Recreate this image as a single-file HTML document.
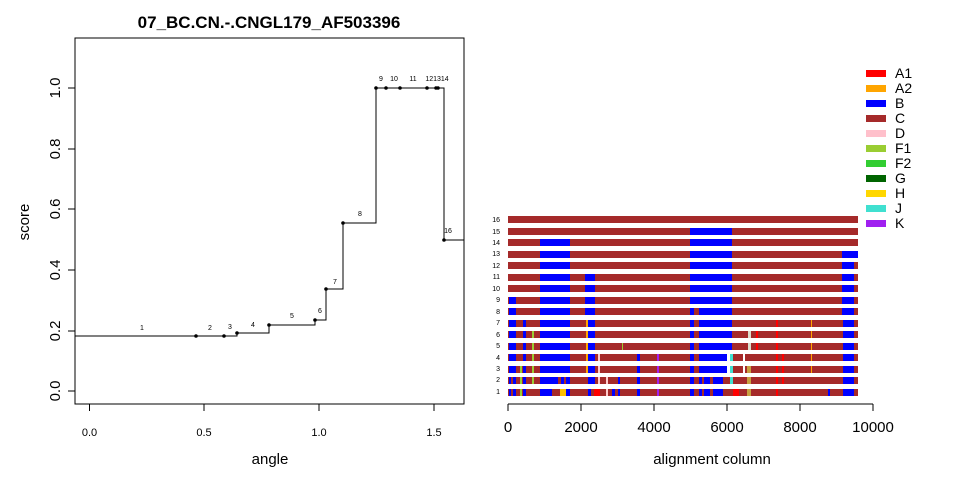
<!DOCTYPE html>
<html><head><meta charset="utf-8"><style>
html,body{margin:0;padding:0;background:#fff}
svg{display:block;font-family:"Liberation Sans",Arial,sans-serif}
</style></head><body>
<svg width="960" height="480" xmlns="http://www.w3.org/2000/svg">
<!-- LEFT PLOT -->
<text x="269" y="28" text-anchor="middle" font-size="17" font-weight="bold">07_BC.CN.-.CNGL179_AF503396</text>
<rect x="75" y="38" width="389" height="366" fill="none" stroke="#000" stroke-width="1"/>
<g stroke="#000">
<line x1="89.5" y1="404" x2="89.5" y2="411"/><line x1="204" y1="404" x2="204" y2="411"/>
<line x1="319" y1="404" x2="319" y2="411"/><line x1="434" y1="404" x2="434" y2="411"/>
<line x1="68" y1="391" x2="75" y2="391"/><line x1="68" y1="331" x2="75" y2="331"/>
<line x1="68" y1="270" x2="75" y2="270"/><line x1="68" y1="209" x2="75" y2="209"/>
<line x1="68" y1="149" x2="75" y2="149"/><line x1="68" y1="88" x2="75" y2="88"/>
</g>
<g font-size="11" text-anchor="middle">
<text x="89.5" y="436">0.0</text><text x="204" y="436">0.5</text><text x="319" y="436">1.0</text><text x="434" y="436">1.5</text>
</g>
<g font-size="15" text-anchor="middle">
<text transform="translate(60,391) rotate(-90)">0.0</text>
<text transform="translate(60,331) rotate(-90)">0.2</text>
<text transform="translate(60,270) rotate(-90)">0.4</text>
<text transform="translate(60,209) rotate(-90)">0.6</text>
<text transform="translate(60,149) rotate(-90)">0.8</text>
<text transform="translate(60,88) rotate(-90)">1.0</text>
<text transform="translate(29,222) rotate(-90)">score</text>
<text x="270" y="464">angle</text>
<text x="712" y="464">alignment column</text>
</g>
<polyline fill="none" stroke="#000" stroke-width="1" points="75,336 237,336 237,333 269,333 269,325 315,325 315,320 326,320 326,289 343,289 343,223 376,223 376,88 444,88 444,240 464,240"/>
<g fill="#000">
<circle cx="196" cy="336" r="1.8"/><circle cx="224" cy="336" r="1.8"/><circle cx="237" cy="333" r="1.8"/>
<circle cx="269" cy="325" r="1.8"/><circle cx="315" cy="320" r="1.8"/><circle cx="326" cy="289" r="1.8"/>
<circle cx="343" cy="223" r="1.8"/><circle cx="376" cy="88" r="1.8"/><circle cx="386" cy="88" r="1.8"/>
<circle cx="400" cy="88" r="1.8"/><circle cx="427" cy="88" r="1.8"/><circle cx="436" cy="88" r="1.8"/>
<circle cx="438" cy="88" r="1.8"/><circle cx="444" cy="240" r="1.8"/>
</g>
<g font-size="7" text-anchor="middle">
<text x="142" y="330">1</text><text x="210" y="330">2</text><text x="230" y="329">3</text>
<text x="253" y="327">4</text><text x="292" y="318">5</text><text x="320" y="313">6</text>
<text x="335" y="284">7</text><text x="360" y="216">8</text><text x="381" y="81">9</text>
<text x="394" y="81">10</text><text x="413" y="81">11</text><text x="437" y="81">121314</text>
<text x="448" y="233">16</text>
</g>
<!-- RIGHT PLOT -->
<line x1="508" y1="404" x2="873" y2="404" stroke="#000"/>
<g stroke="#000">
<line x1="508" y1="404" x2="508" y2="411"/><line x1="581" y1="404" x2="581" y2="411"/>
<line x1="654" y1="404" x2="654" y2="411"/><line x1="727" y1="404" x2="727" y2="411"/>
<line x1="800" y1="404" x2="800" y2="411"/><line x1="873" y1="404" x2="873" y2="411"/>
</g>
<g font-size="15" text-anchor="middle">
<text x="508" y="432">0</text><text x="581" y="432">2000</text><text x="654" y="432">4000</text>
<text x="727" y="432">6000</text><text x="800" y="432">8000</text><text x="873" y="432">10000</text>
</g>
<g font-size="7" text-anchor="end">
<text x="500" y="222">16</text><text x="500" y="234">15</text><text x="500" y="245">14</text><text x="500" y="256">13</text>
<text x="500" y="268">12</text><text x="500" y="279">11</text><text x="500" y="291">10</text><text x="500" y="302">9</text>
<text x="500" y="314">8</text><text x="500" y="325">7</text><text x="500" y="337">6</text><text x="500" y="348">5</text>
<text x="500" y="360">4</text><text x="500" y="371">3</text><text x="500" y="382">2</text><text x="500" y="394">1</text>
</g>
<g id="bars">
<!-- row y top = center-3.5 ; rows 16..1 centers 220 + 11.47*i -->
<rect x="508" y="216" width="350" height="7" fill="#A52A2A"/>
<rect x="508" y="228" width="350" height="7" fill="#A52A2A"/><rect x="690" y="228" width="42" height="7" fill="#00f"/>
<rect x="508" y="239" width="350" height="7" fill="#A52A2A"/><rect x="540" y="239" width="30" height="7" fill="#00f"/><rect x="690" y="239" width="42" height="7" fill="#00f"/>
<rect x="508" y="251" width="350" height="7" fill="#A52A2A"/><rect x="540" y="251" width="30" height="7" fill="#00f"/><rect x="690" y="251" width="42" height="7" fill="#00f"/><rect x="842" y="251" width="16" height="7" fill="#00f"/>
<rect x="508" y="262" width="350" height="7" fill="#A52A2A"/><rect x="540" y="262" width="30" height="7" fill="#00f"/><rect x="690" y="262" width="42" height="7" fill="#00f"/><rect x="842" y="262" width="12" height="7" fill="#00f"/>
<rect x="508" y="274" width="350" height="7" fill="#A52A2A"/><rect x="540" y="274" width="30" height="7" fill="#00f"/><rect x="585" y="274" width="10" height="7" fill="#00f"/><rect x="690" y="274" width="42" height="7" fill="#00f"/><rect x="842" y="274" width="12" height="7" fill="#00f"/>
<rect x="508" y="285" width="350" height="7" fill="#A52A2A"/><rect x="540" y="285" width="30" height="7" fill="#00f"/><rect x="585" y="285" width="10" height="7" fill="#00f"/><rect x="690" y="285" width="42" height="7" fill="#00f"/><rect x="842" y="285" width="12" height="7" fill="#00f"/>
<rect x="508" y="297" width="350" height="7" fill="#A52A2A"/><rect x="509" y="297" width="7" height="7" fill="#00f"/><rect x="540" y="297" width="30" height="7" fill="#00f"/><rect x="585" y="297" width="10" height="7" fill="#00f"/><rect x="690" y="297" width="42" height="7" fill="#00f"/><rect x="842" y="297" width="12" height="7" fill="#00f"/>
<rect x="508" y="308" width="350" height="7" fill="#A52A2A"/><rect x="509" y="308" width="7" height="7" fill="#00f"/><rect x="540" y="308" width="30" height="7" fill="#00f"/><rect x="585" y="308" width="10" height="7" fill="#00f"/><rect x="690" y="308" width="4" height="7" fill="#00f"/><rect x="699" y="308" width="33" height="7" fill="#00f"/><rect x="842" y="308" width="12" height="7" fill="#00f"/>
</g>
<g id="speck">
<!-- rows 7..1 -->
<rect x="508" y="320" width="350" height="7" fill="#A52A2A"/><rect x="509" y="320" width="7" height="7" fill="#00f"/><rect x="523" y="320" width="3" height="7" fill="#00f"/><rect x="540" y="320" width="30" height="7" fill="#00f"/><rect x="588" y="320" width="7" height="7" fill="#00f"/><rect x="586" y="320" width="2" height="7" fill="#FFA500"/><rect x="690" y="320" width="4" height="7" fill="#00f"/><rect x="699" y="320" width="33" height="7" fill="#00f"/><rect x="843" y="320" width="11" height="7" fill="#00f"/><rect x="776" y="320" width="2" height="7" fill="#f00"/><rect x="811" y="320" width="1" height="7" fill="#FFA500"/>
<rect x="508" y="331" width="350" height="7" fill="#A52A2A"/><rect x="509" y="331" width="7" height="7" fill="#00f"/><rect x="523" y="331" width="3" height="7" fill="#00f"/><rect x="532" y="331" width="2" height="7" fill="#9ACD32"/><rect x="540" y="331" width="30" height="7" fill="#00f"/><rect x="588" y="331" width="7" height="7" fill="#00f"/><rect x="586" y="331" width="2" height="7" fill="#FFA500"/><rect x="690" y="331" width="4" height="7" fill="#00f"/><rect x="699" y="331" width="33" height="7" fill="#00f"/><rect x="843" y="331" width="11" height="7" fill="#00f"/><rect x="748" y="331" width="3" height="7" fill="#ddc"/><rect x="776" y="331" width="2" height="7" fill="#f00"/><rect x="756" y="331" width="2" height="7" fill="#f00"/><rect x="811" y="331" width="1" height="7" fill="#FFA500"/>
<rect x="508" y="343" width="350" height="7" fill="#A52A2A"/><rect x="509" y="343" width="7" height="7" fill="#00f"/><rect x="523" y="343" width="3" height="7" fill="#00f"/><rect x="532" y="343" width="2" height="7" fill="#9ACD32"/><rect x="540" y="343" width="30" height="7" fill="#00f"/><rect x="588" y="343" width="7" height="7" fill="#00f"/><rect x="586" y="343" width="2" height="7" fill="#FFA500"/><rect x="622" y="343" width="1" height="7" fill="#9ACD32"/><rect x="690" y="343" width="4" height="7" fill="#00f"/><rect x="699" y="343" width="33" height="7" fill="#00f"/><rect x="843" y="343" width="11" height="7" fill="#00f"/><rect x="748" y="343" width="3" height="7" fill="#ddc"/><rect x="776" y="343" width="2" height="7" fill="#f00"/><rect x="756" y="343" width="2" height="7" fill="#f00"/><rect x="811" y="343" width="1" height="7" fill="#FFA500"/>
<rect x="508" y="354" width="350" height="7" fill="#A52A2A"/><rect x="509" y="354" width="7" height="7" fill="#00f"/><rect x="523" y="354" width="3" height="7" fill="#00f"/><rect x="532" y="354" width="2" height="7" fill="#9ACD32"/><rect x="540" y="354" width="30" height="7" fill="#00f"/><rect x="588" y="354" width="7" height="7" fill="#00f"/><rect x="586" y="354" width="2" height="7" fill="#FFA500"/><rect x="598" y="354" width="2" height="7" fill="#fcc"/><rect x="637" y="354" width="3" height="7" fill="#00f"/><rect x="657" y="354" width="2" height="7" fill="#A020F0"/><rect x="690" y="354" width="4" height="7" fill="#00f"/><rect x="699" y="354" width="28" height="7" fill="#00f"/><rect x="727" y="354" width="3" height="7" fill="#fff"/><rect x="730" y="354" width="3" height="7" fill="#40E0D0"/><rect x="743" y="354" width="2" height="7" fill="#fff"/><rect x="776" y="354" width="2" height="7" fill="#f00"/><rect x="782" y="354" width="2" height="7" fill="#f00"/><rect x="811" y="354" width="1" height="7" fill="#FFA500"/><rect x="843" y="354" width="11" height="7" fill="#00f"/>
<rect x="508" y="366" width="350" height="7" fill="#A52A2A"/><rect x="509" y="366" width="7" height="7" fill="#00f"/><rect x="520" y="366" width="2" height="7" fill="#9ACD32"/><rect x="523" y="366" width="3" height="7" fill="#00f"/><rect x="532" y="366" width="2" height="7" fill="#9ACD32"/><rect x="540" y="366" width="30" height="7" fill="#00f"/><rect x="588" y="366" width="7" height="7" fill="#00f"/><rect x="586" y="366" width="2" height="7" fill="#FFA500"/><rect x="598" y="366" width="2" height="7" fill="#fcc"/><rect x="637" y="366" width="3" height="7" fill="#00f"/><rect x="657" y="366" width="2" height="7" fill="#A020F0"/><rect x="690" y="366" width="4" height="7" fill="#00f"/><rect x="699" y="366" width="28" height="7" fill="#00f"/><rect x="727" y="366" width="3" height="7" fill="#fff"/><rect x="730" y="366" width="3" height="7" fill="#40E0D0"/><rect x="743" y="366" width="2" height="7" fill="#fff"/><rect x="747" y="366" width="4" height="7" fill="#C8A040"/><rect x="776" y="366" width="2" height="7" fill="#f00"/><rect x="782" y="366" width="2" height="7" fill="#f00"/><rect x="811" y="366" width="1" height="7" fill="#FFA500"/><rect x="843" y="366" width="11" height="7" fill="#00f"/>
<rect x="508" y="377" width="350" height="7" fill="#A52A2A"/><rect x="509" y="377" width="2" height="7" fill="#00f"/><rect x="513" y="377" width="3" height="7" fill="#00f"/><rect x="520" y="377" width="2" height="7" fill="#9ACD32"/><rect x="523" y="377" width="3" height="7" fill="#00f"/><rect x="532" y="377" width="2" height="7" fill="#9ACD32"/><rect x="540" y="377" width="18" height="7" fill="#00f"/><rect x="561" y="377" width="3" height="7" fill="#00f"/><rect x="566" y="377" width="4" height="7" fill="#00f"/><rect x="588" y="377" width="7" height="7" fill="#00f"/><rect x="598" y="377" width="2" height="7" fill="#fcc"/><rect x="606" y="377" width="2" height="7" fill="#fcc"/><rect x="618" y="377" width="2" height="7" fill="#00f"/><rect x="637" y="377" width="3" height="7" fill="#00f"/><rect x="657" y="377" width="2" height="7" fill="#A020F0"/><rect x="690" y="377" width="4" height="7" fill="#00f"/><rect x="699" y="377" width="3" height="7" fill="#00f"/><rect x="704" y="377" width="6" height="7" fill="#00f"/><rect x="713" y="377" width="10" height="7" fill="#00f"/><rect x="730" y="377" width="3" height="7" fill="#40E0D0"/><rect x="747" y="377" width="4" height="7" fill="#C8A040"/><rect x="776" y="377" width="2" height="7" fill="#f00"/><rect x="782" y="377" width="2" height="7" fill="#f00"/><rect x="843" y="377" width="11" height="7" fill="#00f"/>
<rect x="508" y="389" width="350" height="7" fill="#A52A2A"/><rect x="509" y="389" width="2" height="7" fill="#00f"/><rect x="513" y="389" width="3" height="7" fill="#00f"/><rect x="520" y="389" width="2" height="7" fill="#9ACD32"/><rect x="523" y="389" width="3" height="7" fill="#00f"/><rect x="540" y="389" width="12" height="7" fill="#00f"/><rect x="560" y="389" width="6" height="7" fill="#FFC000"/><rect x="566" y="389" width="4" height="7" fill="#00f"/><rect x="588" y="389" width="3" height="7" fill="#00f"/><rect x="594" y="389" width="6" height="7" fill="#f00"/><rect x="606" y="389" width="2" height="7" fill="#fcc"/><rect x="612" y="389" width="3" height="7" fill="#00f"/><rect x="618" y="389" width="2" height="7" fill="#00f"/><rect x="637" y="389" width="3" height="7" fill="#00f"/><rect x="657" y="389" width="2" height="7" fill="#A020F0"/><rect x="690" y="389" width="4" height="7" fill="#00f"/><rect x="699" y="389" width="3" height="7" fill="#00f"/><rect x="704" y="389" width="6" height="7" fill="#00f"/><rect x="713" y="389" width="10" height="7" fill="#00f"/><rect x="733" y="389" width="6" height="7" fill="#f00"/><rect x="747" y="389" width="4" height="7" fill="#C8A040"/><rect x="776" y="389" width="2" height="7" fill="#f00"/><rect x="828" y="389" width="2" height="7" fill="#00f"/><rect x="843" y="389" width="11" height="7" fill="#00f"/>
</g>
<!-- LEGEND -->
<g font-size="14">
<rect x="866" y="70" width="20" height="7" fill="#f00"/><text x="895" y="78">A1</text>
<rect x="866" y="85" width="20" height="7" fill="#FFA500"/><text x="895" y="93">A2</text>
<rect x="866" y="100" width="20" height="7" fill="#00f"/><text x="895" y="108">B</text>
<rect x="866" y="115" width="20" height="7" fill="#A52A2A"/><text x="895" y="123">C</text>
<rect x="866" y="130" width="20" height="7" fill="#FFC0CB"/><text x="895" y="138">D</text>
<rect x="866" y="145" width="20" height="7" fill="#9ACD32"/><text x="895" y="153">F1</text>
<rect x="866" y="160" width="20" height="7" fill="#32CD32"/><text x="895" y="168">F2</text>
<rect x="866" y="175" width="20" height="7" fill="#006400"/><text x="895" y="183">G</text>
<rect x="866" y="190" width="20" height="7" fill="#FFD700"/><text x="895" y="198">H</text>
<rect x="866" y="205" width="20" height="7" fill="#40E0D0"/><text x="895" y="213">J</text>
<rect x="866" y="220" width="20" height="7" fill="#A020F0"/><text x="895" y="228">K</text>
</g>
</svg>
</body></html>
